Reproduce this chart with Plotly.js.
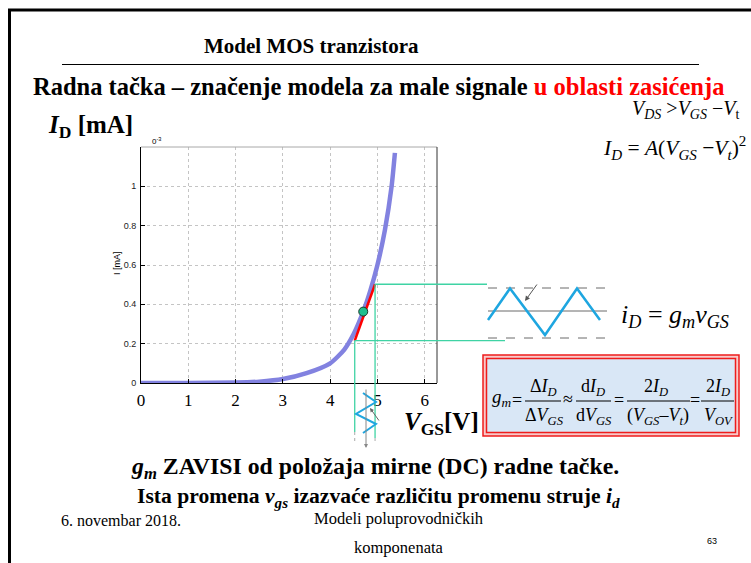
<!DOCTYPE html>
<html>
<head>
<meta charset="utf-8">
<script src="https://cdn.plot.ly/plotly-3.0.1.min.js"></script>
<style>html,body{margin:0;padding:0;background:#fff;}#chart{width:751px;height:563px;}</style>
</head>
<body>
<div id="chart"></div>
<script>
// ---- data ----
const vgs = [0, 1, 2, 2.5, 3, 3.5, 4, 4.3, 4.5, 4.7, 4.85, 5.0, 5.16, 5.3, 5.37];
const idmA = [0, 0, 0.002, 0.007, 0.02, 0.05, 0.1, 0.17, 0.25, 0.363, 0.47, 0.6, 0.78, 1.0, 1.17];
const tangentX = [4.52, 4.95];
const tangentY = [0.215, 0.502];
const qPointX = [4.70];
const qPointY = [0.363];
const xTickVals = [0, 1, 2, 3, 4, 5, 6];
const xTickText = ['0', '1', '2', '3', '4', '5', '6'];
const yTickVals = [0, 0.2, 0.4, 0.6, 0.8, 1.0];
const yTickText = ['0', '0.2', '0.4', '0.6', '0.8', '1'];

// ---- layout helpers ----
const W = 751, H = 563;
const px = x => x / W;
const py = y => 1 - y / H;
const xRange = [0, 6.26], yRange = [0, 1.2];
const xDom = [px(141), px(437)], yDom = [py(383), py(147)];
const dX = v => xDom[0] + (v - xRange[0]) / (xRange[1] - xRange[0]) * (xDom[1] - xDom[0]);
const dY = v => yDom[0] + (v - yRange[0]) / (yRange[1] - yRange[0]) * (yDom[1] - yDom[0]);
const SERIF = 'Liberation Serif';
const SANS = 'Liberation Sans';

function ann(text, x, y, size, o) {
  o = o || {};
  return Object.assign({
    text: text, xref: 'paper', yref: 'paper', x: px(x), y: py(y),
    xanchor: 'center', yanchor: 'middle', showarrow: false,
    font: {family: o.family || SERIF, size: size, color: o.color || '#000'}
  }, o.extra || {});
}
function line(x0, y0, x1, y1, color, width, dash) {
  return {type: 'line', xref: 'paper', yref: 'paper', x0: x0, y0: y0, x1: x1, y1: y1,
          line: {color: color, width: width, dash: dash || 'solid'}};
}
function pline(x0, y0, x1, y1, color, width, dash) {
  return line(px(x0), py(y0), px(x1), py(y1), color, width, dash);
}
function poly(pts, color, width) {
  let d = pts.map((p, i) => (i ? 'L' : 'M') + px(p[0]) + ',' + py(p[1])).join(' ');
  return {type: 'path', xref: 'paper', yref: 'paper', path: d, line: {color: color, width: width}};
}

const GREEN = '#3fd3a4';
const BLUE = '#1ea6e0';
const GRAY = '#6a6a6a';

const traces = [
  {x: vgs, y: idmA, type: 'scatter', mode: 'lines', line: {color: '#8282e0', width: 4.5, shape: 'spline', smoothing: 0.6}, hoverinfo: 'skip'},
  {x: tangentX, y: tangentY, type: 'scatter', mode: 'lines', line: {color: '#ff0000', width: 2.5}, hoverinfo: 'skip'},
  {x: qPointX, y: qPointY, type: 'scatter', mode: 'markers', marker: {color: '#1fbf8f', size: 9, line: {color: '#1a3a2a', width: 1}}, hoverinfo: 'skip'}
];

const shapes = [
  // slide border
  pline(8, 10, 751, 10, '#000', 3),
  pline(9.5, 10, 9.5, 563, '#000', 3),
  // title rule
  pline(62, 64.5, 699, 64.5, '#000', 1),
  // plot frame top and right
  line(xDom[0], yDom[1], xDom[1], yDom[1], '#a8a8a8', 1),
  line(xDom[1], yDom[0], xDom[1], yDom[1], '#333', 1),
  // green projection lines from the tangent ends
  line(dX(tangentX[1]), dY(tangentY[1]), px(487), dY(tangentY[1]), GREEN, 1.3),
  line(dX(tangentX[0]), dY(tangentY[0]), px(505), dY(tangentY[0]), GREEN, 1.3),
  line(dX(tangentX[0]), dY(tangentY[0]), dX(tangentX[0]), py(432), GREEN, 1.3),
  line(dX(tangentX[1]), dY(tangentY[1]), dX(tangentX[1]), py(438), GREEN, 1.3),
  line(dX(tangentX[0]), py(432), dX(tangentX[0]), py(441), '#aaa', 1, 'dot'),
  line(dX(tangentX[1]), py(438), dX(tangentX[1]), py(444), '#aaa', 1, 'dot'),
  // small vgs zigzag
  poly([[363, 393], [376, 402], [356, 414], [376, 424], [363, 433]], BLUE, 2),
  // big id waveform
  pline(488, 288, 607, 288, GRAY, 1, 'dash'),
  pline(488, 338, 607, 338, GRAY, 1, 'dash'),
  pline(488, 311, 607, 311, GRAY, 1),
  poly([[488, 320], [510, 288.5], [545, 335], [577, 288.5], [600, 320]], BLUE, 2.5),
  // formula box
  {type: 'rect', xref: 'paper', yref: 'paper', x0: px(483), x1: px(739), y0: py(436), y1: py(355),
   fillcolor: '#f9c9c9', line: {color: '#ee1c1c', width: 1.5}},
  {type: 'rect', xref: 'paper', yref: 'paper', x0: px(486.5), x1: px(735.5), y0: py(432.5), y1: py(358.5),
   fillcolor: '#d9e7f6', line: {color: '#ee1c1c', width: 1.5}},
  // fraction bars
  pline(525, 401, 561, 401, '#000', 1),
  pline(576, 401, 611, 401, '#000', 1),
  pline(627, 401, 690, 401, '#000', 1),
  pline(701, 401, 734, 401, '#000', 1)
];

const annotations = [
  ann('<b>Model MOS tranzistora</b>', 311, 46, 21),
  ann('<b>Radna tačka – značenje modela za male signale <span style="color:#ff0000">u oblasti zasićenja</span></b>', 378, 86, 24.5),
  ann('<i>V</i><sub><i>DS</i></sub> ><i>V</i><sub><i>GS</i></sub> −<i>V</i><sub>t</sub>', 685, 110, 20),
  ann('<i>I</i><sub><i>D</i></sub> = <i>A</i>(<i>V</i><sub><i>GS</i></sub> −<i>V</i><sub><i>t</i></sub>)<sup>2</sup>', 674, 148, 21.5),
  ann('<b><i>I</i><sub>D</sub> [mA]</b>', 90, 127, 25),
  ann('0<sup>-3</sup>', 156, 141, 8, {family: SANS}),
  ann('I [mA]', 117, 263, 9, {family: SANS, extra: {textangle: -90}}),
  ann('<b><i>V</i><sub>GS</sub>[V]</b>', 441, 423, 25),
  ann('<i>i</i><sub><i>D</i></sub> = <i>g</i><sub><i>m</i></sub><i>v</i><sub><i>GS</i></sub>', 675, 316, 26),
  // formula
  ann('<i>g</i><sub><i>m</i></sub>', 502, 398, 19),
  ann('=', 517, 400, 18),
  ann('Δ<i>I</i><sub><i>D</i></sub>', 543, 387, 18),
  ann('Δ<i>V</i><sub><i>GS</i></sub>', 544, 416, 18),
  ann('≈', 568, 399, 18),
  ann('d<i>I</i><sub><i>D</i></sub>', 593, 387, 18),
  ann('d<i>V</i><sub><i>GS</i></sub>', 594, 416, 18),
  ann('=', 619, 400, 18),
  ann('2<i>I</i><sub><i>D</i></sub>', 656, 387, 18),
  ann('(<i>V</i><sub><i>GS</i></sub>–<i>V</i><sub><i>t</i></sub>)', 658, 416, 18),
  ann('=', 695, 400, 18),
  ann('2<i>I</i><sub><i>D</i></sub>', 718, 387, 18),
  ann('<i>V</i><sub><i>OV</i></sub>', 718, 416, 18),
  // arrows
  {x: px(525), y: py(301), xref: 'paper', yref: 'paper', ax: 13, ay: -18, showarrow: true,
   arrowhead: 2, arrowsize: 1, arrowwidth: 1, arrowcolor: '#555', text: ''},
  {x: px(366), y: py(448), xref: 'paper', yref: 'paper', ax: 0, ay: -60, showarrow: true,
   arrowhead: 2, arrowsize: 0.8, arrowwidth: 1, arrowcolor: '#888', text: ''},
  {x: px(370), y: py(408), xref: 'paper', yref: 'paper', ax: 10, ay: 14, showarrow: true,
   arrowhead: 2, arrowsize: 0.8, arrowwidth: 1, arrowcolor: '#666', text: ''},
  // bottom texts
  ann('<b><i>g</i><sub><i>m</i></sub> ZAVISI od položaja mirne (DC) radne tačke.</b>', 375, 468, 23.8),
  ann('<b>Ista promena <i>v</i><sub><i>gs</i></sub> izazvaće različitu promenu struje <i>i</i><sub><i>d</i></sub></b>', 378, 497, 21.6),
  ann('6. novembar 2018.', 121, 520, 16),
  ann('Modeli poluprovodničkih', 399, 518, 16.5),
  ann('komponenata', 399, 547, 16.5),
  ann('63', 712, 541, 9, {family: SANS})
];

const layout = {
  width: W, height: H,
  margin: {l: 0, r: 0, t: 0, b: 0},
  paper_bgcolor: '#fff', plot_bgcolor: '#fff',
  showlegend: false,
  font: {family: SERIF, color: '#000'},
  xaxis: {
    domain: xDom, range: xRange, tickmode: 'array', tickvals: xTickVals, ticktext: xTickText,
    showgrid: true, gridcolor: '#c4c4c4', griddash: 'dot', gridwidth: 1, zeroline: false,
    showline: true, linecolor: '#000', linewidth: 1, ticks: 'inside', ticklen: 4, tickcolor: '#000',
    tickfont: {family: SERIF, size: 17, color: '#000'}, ticklabelstandoff: 2, fixedrange: true
  },
  yaxis: {
    domain: yDom, range: yRange, tickmode: 'array', tickvals: yTickVals, ticktext: yTickText,
    showgrid: true, gridcolor: '#c4c4c4', griddash: 'dot', gridwidth: 1, zeroline: false,
    showline: true, linecolor: '#000', linewidth: 1, ticks: 'inside', ticklen: 4, tickcolor: '#000',
    tickfont: {family: SANS, size: 9, color: '#222'}, ticklabelstandoff: 2, fixedrange: true
  },
  shapes: shapes,
  annotations: annotations
};

Plotly.newPlot('chart', traces, layout, {staticPlot: true, displayModeBar: false});
</script>
</body>
</html>
